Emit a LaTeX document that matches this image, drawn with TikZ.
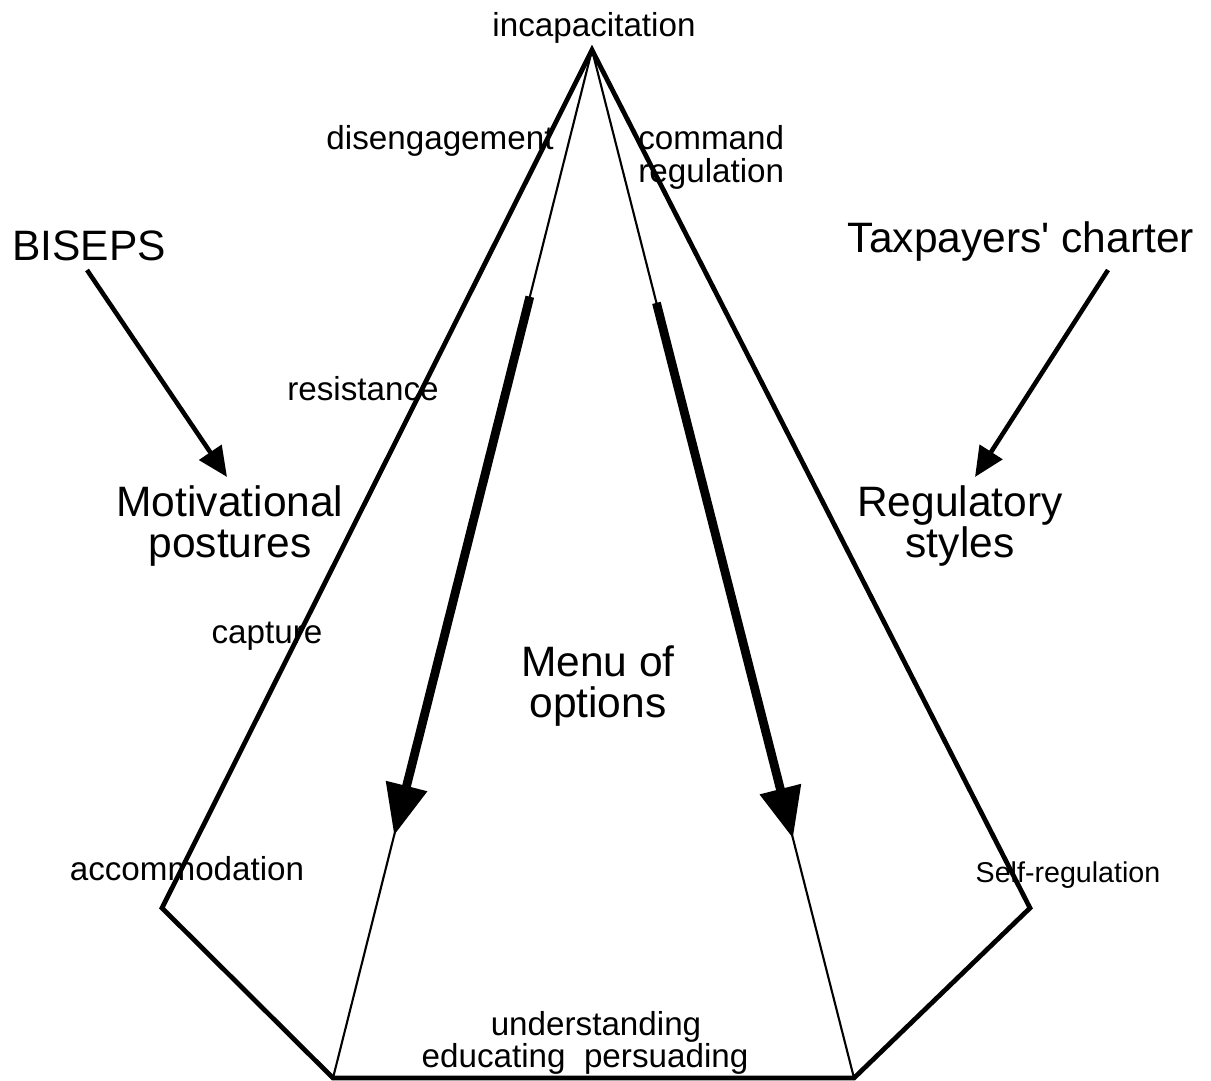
\documentclass[tikz,border=0pt]{standalone}
\usepackage{fontspec}
\setmainfont{Liberation Sans}
\usepackage{tikz}
\usetikzlibrary{arrows.meta,calc}

\begin{document}
\begin{tikzpicture}[x=0.02cm,y=-0.02cm,
		lbl/.style={font=\fontsize{18.9}{19.2}\selectfont,inner sep=0pt},
		biglbl/.style={font=\fontsize{24.2}{22.8}\selectfont,inner sep=0pt},
		tinylbl/.style={font=\fontsize{16.3}{16}\selectfont,inner sep=0pt},
		outer/.style={line width=2.7pt},
		fine/.style={line width=1.2pt},
		heavy/.style={line width=5pt,-{Triangle[length=29pt,width=23pt]}},
		feed/.style={line width=2.6pt,-{Triangle[length=17pt,width=15pt]}}]
				\useasboundingbox (0,0) rectangle (1211,1081);
				
				% corners of the menu
				\coordinate (apex) at (592,50);
				\coordinate (lc) at (162,908);
				\coordinate (bl) at (333,1078);
				\coordinate (br) at (854,1078);
				\coordinate (rc) at (1030,908);
				\draw[outer] (apex) -- (lc) -- (bl) -- (br) -- (rc) -- cycle;
				\draw[fine] (apex) -- (bl);
				\draw[fine] (apex) -- (br);
				
				% escalation arrows
				\coordinate (ltop) at ($(apex)!0.240!(bl)$);
				\coordinate (ltip) at ($(apex)!0.764!(bl)$);
				\coordinate (rtop) at ($(apex)!0.246!(br)$);
				\coordinate (rtip) at ($(apex)!0.767!(br)$);
				\draw[heavy] (ltop) -- (ltip);
				\draw[heavy] (rtop) -- (rtip);
				
				\node[lbl,anchor=base] (incap) at (594,37) {incapacitation};
				\node[lbl,anchor=base] (diseng) at (440,150) {disengagement};
				\node[lbl,anchor=base west,align=left] (command) at (638,183) {command\\regulation};
				\node[lbl,anchor=base] (resist) at (363,400) {resistance};
				\node[lbl,anchor=base] (capture) at (267,643) {capture};
				\node[lbl,anchor=base] (accom) at (187,880) {accommodation};
				\node[tinylbl,anchor=base] (selfreg) at (1068,882) {Self-regulation};
				\node[lbl,anchor=base] (underst) at (596,1035) {understanding};
				\node[lbl,anchor=base] (educ) at (585,1067) {educating\ \ persuading};
				
				\node[biglbl,anchor=base] (biseps) at (89,261) {BISEPS};
				\node[biglbl,anchor=base] (charter) at (1021,253) {Taxpayers\textquotesingle{} charter};
				\node[biglbl,anchor=base,align=center] (motiv) at (230,557) {Motivational\\postures};
				\node[biglbl,anchor=base,align=center] (regstyle) at (960,557) {Regulatory\\styles};
				\node[biglbl,anchor=base,align=center] (menu) at (598,717) {Menu of\\options};
				
				% feeding arrows
				\coordinate (bisepsfoot) at (87,270);
				\coordinate (motivhead) at (227,477);
				\coordinate (charterfoot) at (1108,270);
				\coordinate (reghead) at (975,477);
				\draw[feed] (bisepsfoot) -- (motivhead);
				\draw[feed] (charterfoot) -- (reghead);
\end{tikzpicture}
\end{document}
